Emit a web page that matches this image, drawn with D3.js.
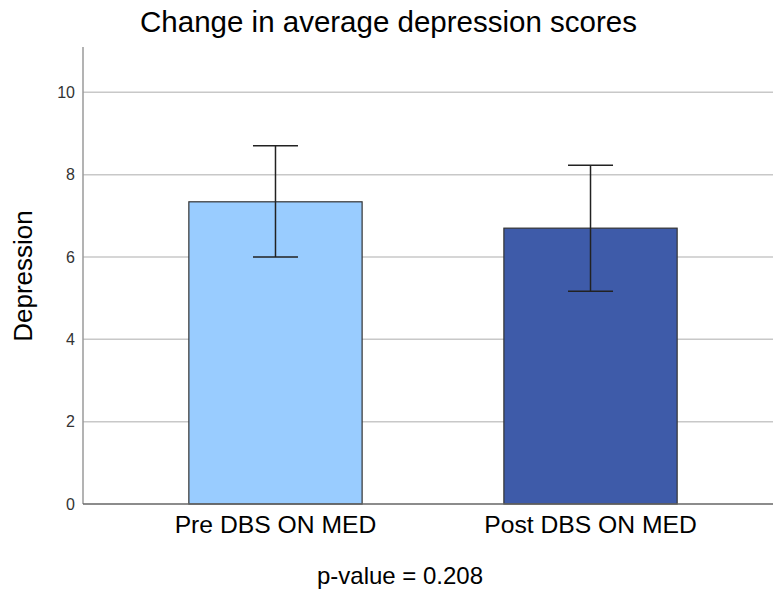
<!DOCTYPE html>
<html>
<head>
<meta charset="utf-8">
<script src="https://cdn.jsdelivr.net/npm/d3@7"></script>
<style>
  html, body { margin: 0; padding: 0; background: #fff; }
  svg { display: block; font-family: "Liberation Sans", Arial, sans-serif; }
</style>
</head>
<body>
<svg id="chart" width="773" height="591"></svg>
<script>
// Mean depression score per condition, with error bar bounds
const categories = ["Pre DBS ON MED", "Post DBS ON MED"];
const means = [7.34, 6.70];
const lowerBounds = [6.00, 5.17];
const upperBounds = [8.70, 8.23];
const barColors = ["#99CCFF", "#3E5BA9"];
const yTicks = [0, 2, 4, 6, 8, 10];

const svg = d3.select("#chart");
const plot = { left: 83, right: 783, top: 47, bottom: 504 };

const y = d3.scaleLinear().domain([0, 11.1]).range([plot.bottom, plot.top]);
const x = d3.scaleBand().domain(categories).range([plot.left, plot.right])
  .paddingInner(0.45).paddingOuter(0.336);

// grid lines
svg.append("g").selectAll("line").data(yTicks.filter(d => d > 0)).join("line")
  .attr("x1", plot.left).attr("x2", plot.right)
  .attr("y1", d => y(d)).attr("y2", d => y(d))
  .attr("stroke", "#c8c8c8").attr("stroke-width", 1.5);

// y axis
const yAxis = svg.append("g").attr("transform", `translate(${plot.left},0)`)
  .call(d3.axisLeft(y).tickValues(yTicks).tickSize(0).tickPadding(8));
yAxis.select(".domain").remove();
yAxis.selectAll("text").attr("font-size", 16).attr("fill", "#333")
  .attr("font-family", "Liberation Sans, Arial, sans-serif");
svg.append("line").attr("x1", plot.left).attr("x2", plot.left)
  .attr("y1", plot.top).attr("y2", plot.bottom)
  .attr("stroke", "#9a9a9a").attr("stroke-width", 1.5);

// bars
const data = categories.map((c, i) => ({ c, m: means[i], lo: lowerBounds[i], hi: upperBounds[i], col: barColors[i] }));
svg.append("g").selectAll("rect").data(data).join("rect")
  .attr("x", d => x(d.c)).attr("width", x.bandwidth())
  .attr("y", d => y(d.m)).attr("height", d => y(0) - y(d.m))
  .attr("fill", d => d.col).attr("stroke", "#333").attr("stroke-width", 1.2);

// x axis baseline
svg.append("line").attr("x1", plot.left).attr("x2", plot.right)
  .attr("y1", plot.bottom).attr("y2", plot.bottom)
  .attr("stroke", "#666").attr("stroke-width", 1.5);

// error bars
const cap = 22.5;
const eb = svg.append("g").attr("stroke", "#222").attr("stroke-width", 1.5);
data.forEach(d => {
  const cx = x(d.c) + x.bandwidth() / 2;
  eb.append("line").attr("x1", cx).attr("x2", cx).attr("y1", y(d.hi)).attr("y2", y(d.lo));
  eb.append("line").attr("x1", cx - cap).attr("x2", cx + cap).attr("y1", y(d.hi)).attr("y2", y(d.hi));
  eb.append("line").attr("x1", cx - cap).attr("x2", cx + cap).attr("y1", y(d.lo)).attr("y2", y(d.lo));
});

// category labels
svg.append("g").selectAll("text").data(categories).join("text")
  .attr("x", d => x(d) + x.bandwidth() / 2).attr("y", 533)
  .attr("text-anchor", "middle").attr("font-size", 24.7).attr("fill", "#000")
  .text(d => d);

// title
svg.append("text").attr("x", 388.5).attr("y", 32).attr("text-anchor", "middle")
  .attr("font-size", 29.5).attr("fill", "#000").text("Change in average depression scores");

// y axis title
svg.append("text").attr("transform", `translate(32,276) rotate(-90)`)
  .attr("text-anchor", "middle").attr("font-size", 26).attr("fill", "#000").text("Depression");

// footnote
svg.append("text").attr("x", 400).attr("y", 584).attr("text-anchor", "middle")
  .attr("font-size", 24).attr("fill", "#000").text("p-value = 0.208");
</script>
</body>
</html>
